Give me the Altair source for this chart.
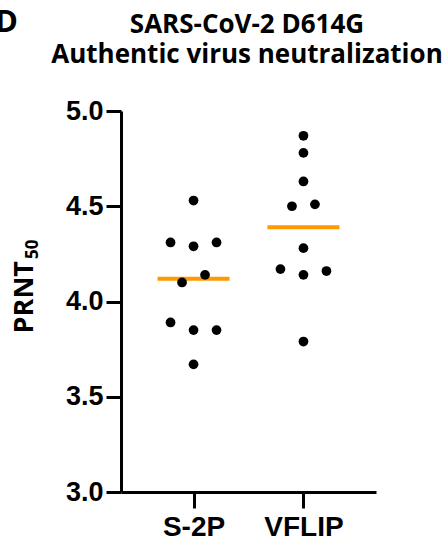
import altair as alt
import pandas as pd

groups = ["S-2P", "VFLIP"]
s2p_values = [4.53, 4.31, 4.29, 4.31, 4.14, 4.10, 3.89, 3.85, 3.85, 3.67]
s2p_slots = [0, -2, 0, 2, 1, -1, -2, 0, 2, 0]
vflip_values = [4.87, 4.78, 4.63, 4.50, 4.51, 4.28, 4.17, 4.14, 4.16, 3.79]
vflip_slots = [0, 0, 0, -1, 1, 0, -2, 0, 2, 0]
y_ticks = [3.0, 3.5, 4.0, 4.5, 5.0]
title_lines = ["SARS-CoV-2 D614G", "Authentic virus neutralization"]
panel_label = "D"
y_title_main = "PRNT"
y_title_sub = "50"

df = pd.DataFrame({
    "group": ["S-2P"] * len(s2p_values) + ["VFLIP"] * len(vflip_values),
    "value": s2p_values + vflip_values,
    "slot": s2p_slots + vflip_slots,
})

x_enc = alt.X("group:N", sort=groups,
              scale=alt.Scale(type="point", padding=0.66),
              axis=alt.Axis(title=None, labelAngle=0, tickSize=16, labelPadding=5,
                            labelFontSize=28))
y_enc = alt.Y("value:Q", scale=alt.Scale(domain=[3, 5], nice=False, zero=False),
              axis=alt.Axis(values=y_ticks, format=".1f", title=None,
                            tickSize=15, labelPadding=3, labelFontSize=27))

median = alt.Chart(df).mark_tick(color="#FF9900", size=72, thickness=4).encode(
    x=x_enc,
    y=alt.Y("median(value):Q"),
)

points = alt.Chart(df).mark_circle(color="black", opacity=1, size=95).encode(
    x=x_enc,
    y=y_enc,
    xOffset=alt.XOffset("slot:Q", scale=alt.Scale(domain=[-2, 2], range=[-23, 23])),
)

def label(text, size, x, y, align="center", angle=0):
    return alt.Chart(pd.DataFrame({"t": [text]})).mark_text(
        font="Open Sans", fontWeight="bold", fontSize=size, align=align,
        baseline="alphabetic", color="black", angle=angle,
    ).encode(text="t:N", x=alt.value(x), y=alt.value(y))

panel = label(panel_label, 31, -103, -79, align="right")
t1 = label(title_lines[0], 26, 126, -78)
t2 = label(title_lines[1], 26, 126, -48)
yt = label(y_title_main, 27, -88, 150, align="right", angle=270)
ys = label(y_title_sub, 17, -83, 148, align="left", angle=270)

chart = alt.layer(median, points, panel, t1, t2, yt, ys).properties(
    width=255, height=381,
    autosize=alt.AutoSizeParams(type="none"),
    padding={"left": 121, "top": 111, "right": 72, "bottom": 51},
).configure_view(stroke=None).configure_axis(
    grid=False, domainColor="black", domainWidth=3, tickColor="black", tickWidth=3,
    labelFont="Liberation Sans", labelFontWeight="bold",
    labelColor="black",
)

chart.save("out.html", embed_options={"renderer": "svg", "actions": False})
